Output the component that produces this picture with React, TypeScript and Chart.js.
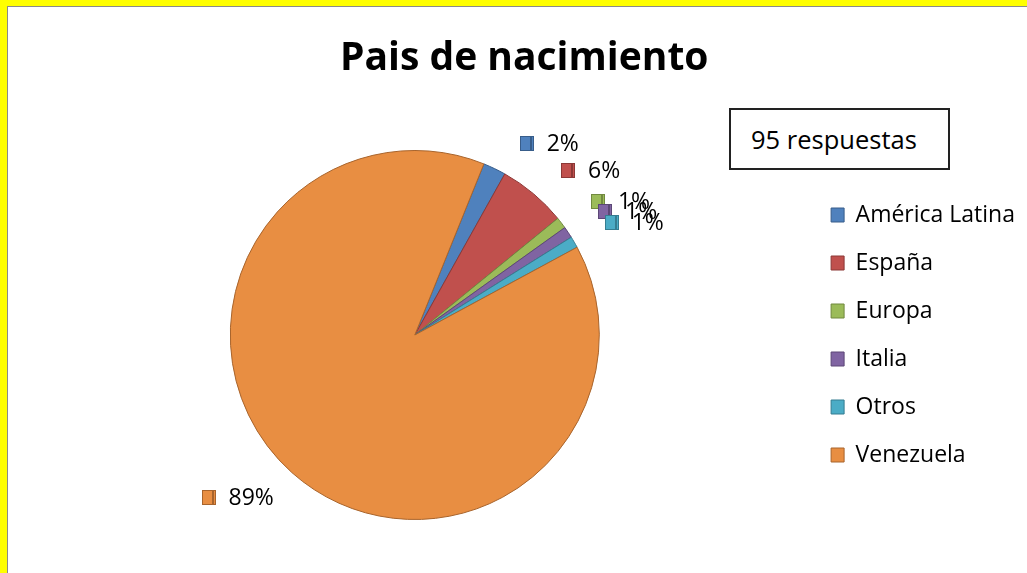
import React, { useEffect, useRef } from "react";
import { Chart, registerables } from "chart.js";

Chart.register(...registerables);

const chartTitle = "Pais de nacimiento";
const categories = ["América Latina", "España", "Europa", "Italia", "Otros", "Venezuela"];
const percentValues = [2, 6, 1, 1, 1, 89];
const sliceColors = ["#4F81BD", "#C0504D", "#9BBB59", "#8064A2", "#4BACC6", "#E88E42"];
const sliceBorders = ["#385D8A", "#8C3836", "#71893F", "#5C4776", "#357D91", "#A8642C"];
const noteText = "95 respuestas";

const FONT = "'Open Sans', Lato, sans-serif";

const labelPlugin = {
  id: "pctLabels",
  afterDatasetsDraw(chart: any) {
    const ctx = chart.ctx;
    const meta = chart.getDatasetMeta(0);
    const values = chart.data.datasets[0].data as number[];
    ctx.save();
    ctx.font = `23px ${FONT}`;
    ctx.textBaseline = "middle";
    meta.data.forEach((arc: any, i: number) => {
      const p = arc.getProps(["x", "y", "startAngle", "endAngle", "outerRadius"], true);
      const mid = (p.startAngle + p.endAngle) / 2;
      const r = p.outerRadius + 12;
      const ax = p.x + Math.cos(mid) * r;
      const ay = p.y + Math.sin(mid) * r;
      const text = `${values[i]}%`;
      const tw = ctx.measureText(text).width;
      const mkW = 14;
      const mkH = 15;
      const gap = 13;
      const boxW = mkW + gap + tw;
      const boxH = 22;
      const isRight = Math.cos(mid) >= 0;
      const isUp = Math.sin(mid) < 0;
      const left = isRight ? ax + 20 : ax - 10 - boxW;
      const top = isUp ? ay - 3 - boxH : ay + 5;
      const cy = top + boxH / 2;
      const mx = Math.round(left);
      const my = Math.round(cy - mkH / 2);
      ctx.fillStyle = sliceColors[i];
      ctx.fillRect(mx, my, mkW, mkH);
      ctx.fillStyle = sliceBorders[i];
      ctx.fillRect(mx + mkW - 4, my + 1, 2, mkH - 2);
      ctx.strokeStyle = sliceBorders[i];
      ctx.lineWidth = 1;
      ctx.strokeRect(mx + 0.5, my + 0.5, mkW - 1, mkH - 1);
      ctx.fillStyle = "#000";
      ctx.textAlign = "left";
      ctx.fillText(text, left + mkW + gap, cy + 1);
    });
    ctx.restore();
  },
};

export default function App() {
  const ref = useRef<HTMLCanvasElement | null>(null);

  useEffect(() => {
    if (!ref.current) return;
    const chart = new Chart(ref.current, {
      type: "pie",
      data: {
        labels: categories,
        datasets: [
          {
            data: percentValues,
            backgroundColor: sliceColors,
            borderColor: sliceBorders,
            borderWidth: 1,
          },
        ],
      },
      options: {
        animation: false,
        responsive: false,
        maintainAspectRatio: false,
        rotation: 22,
        layout: { padding: { left: 23.5, right: 2, top: 0, bottom: 53 } },
        plugins: {
          tooltip: { enabled: false },
          title: {
            display: true,
            text: chartTitle,
            color: "#000",
            font: { family: FONT, size: 39, weight: "bold", lineHeight: 1.2 },
            padding: { top: 35.6, bottom: 67.6 },
          },
          legend: {
            display: true,
            position: "right",
            fullSize: false,
            align: "center",
            labels: {
              color: "#000",
              font: { family: FONT, size: 23 },
              boxWidth: 13,
              boxHeight: 14,
              padding: 25,
            },
          },
        },
      },
      plugins: [labelPlugin],
    });
    return () => chart.destroy();
  }, []);

  return (
    <div style={{ position: "fixed", left: 0, top: 0, width: 1027, height: 573, background: "#FFFF00", overflow: "hidden" }}>
      <div
        style={{
          position: "absolute",
          left: 7,
          top: 6,
          right: 0,
          bottom: 0,
          background: "#fff",
          borderLeft: "1px solid #8a8a8a",
          borderTop: "1px solid #8a8a8a",
        }}
      />
      <canvas ref={ref} width={1027} height={573} style={{ position: "absolute", left: 0, top: 0, width: 1027, height: 573 }} />
      <div
        style={{
          position: "absolute",
          left: 729,
          top: 108,
          width: 197,
          height: 58,
          border: "2px solid #222",
          background: "#fff",
          fontFamily: FONT,
          fontSize: 25.5,
          color: "#000",
          lineHeight: "58px",
          paddingLeft: 20,
          boxSizing: "content-box",
          whiteSpace: "nowrap",
        }}
      >
        {noteText}
      </div>
    </div>
  );
}
